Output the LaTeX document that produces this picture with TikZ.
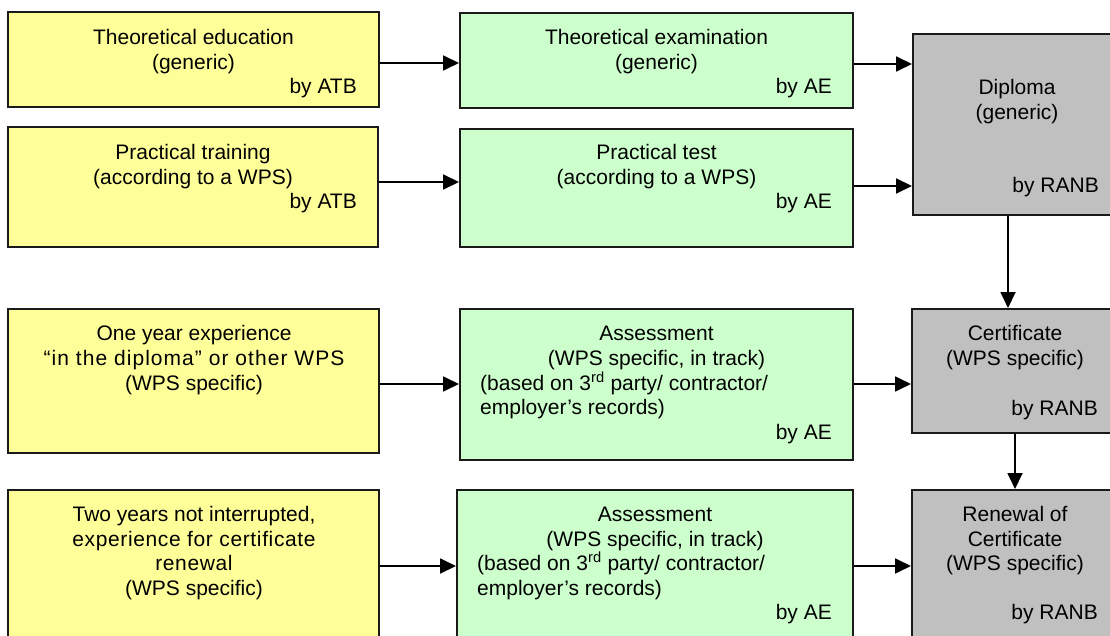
\documentclass[tikz,border=0pt]{standalone}
\usepackage{fontspec}
\setmainfont{Liberation Sans}
\usetikzlibrary{arrows.meta}
\definecolor{ybox}{HTML}{FFFF99}
\definecolor{gbox}{HTML}{CCFFCC}
\definecolor{kbox}{HTML}{C0C0C0}
\definecolor{boxline}{HTML}{1A1A1A}
\begin{document}
\begin{tikzpicture}[x=1pt,y=-1pt,
  box/.style={draw=boxline, line width=2pt, inner sep=0pt, rectangle},
  ybx/.style={box, fill=ybox},
  gbx/.style={box, fill=gbox},
  kbx/.style={box, fill=kbox},
  txt/.style={anchor=base, inner sep=0pt, font=\fontsize{21}{24.5}\selectfont},
  rtxt/.style={txt, anchor=base east},
  ltxt/.style={txt, anchor=base west},
  arr/.style={line width=1.8pt, draw=black, -{Triangle[length=16pt,width=15pt]}}]
\useasboundingbox (0,0) rectangle (1110,636);
\clip (0,0) rectangle (1110,636);
% boxes
\node[ybx, minimum width=371pt, minimum height=95pt]  (y1) at (193.5,59.5) {};
\node[ybx, minimum width=370pt, minimum height=120pt] (y2) at (193,187) {};
\node[gbx, minimum width=393pt, minimum height=95pt]  (g1) at (656.5,60.5) {};
\node[gbx, minimum width=393pt, minimum height=118pt] (g2) at (656.5,188) {};
\node[kbx, minimum width=209pt, minimum height=181pt] (dip) at (1017.5,124.5) {};
\node[ybx, minimum width=371pt, minimum height=144pt] (y3) at (193.5,381) {};
\node[gbx, minimum width=393pt, minimum height=151pt] (g3) at (656.5,384.5) {};
\node[kbx, minimum width=210pt, minimum height=124pt] (cert) at (1017,371) {};
\node[ybx, minimum width=371pt, minimum height=170pt] (y4) at (193.5,575) {};
\node[gbx, minimum width=396pt, minimum height=170pt] (g4) at (655,575) {};
\node[kbx, minimum width=210pt, minimum height=170pt] (ren) at (1017,575) {};
% texts row 1
\node[txt]  (y1a) at (193.5,45) {Theoretical education};
\node[txt]  (y1b) at (193.5,70) {(generic)};
\node[rtxt] (y1c) at (357,94) {by ATB};
\node[txt]  (g1a) at (656.5,45) {Theoretical examination};
\node[txt]  (g1b) at (656.5,70) {(generic)};
\node[rtxt] (g1c) at (832,94) {by AE};
% row 2
\node[txt]  (y2a) at (193,160) {Practical training};
\node[txt]  (y2b) at (193,185) {(according to a WPS)};
\node[rtxt] (y2c) at (357,209) {by ATB};
\node[txt]  (g2a) at (656.5,160) {Practical test};
\node[txt]  (g2b) at (656.5,185) {(according to a WPS)};
\node[rtxt] (g2c) at (832,209) {by AE};
% diploma
\node[txt]  (dipa) at (1017,95) {Diploma};
\node[txt]  (dipb) at (1017,119.5) {(generic)};
\node[rtxt] (dipc) at (1099,192.5) {by RANB};
% row 3
\node[txt]  (y3a) at (194,340.5) {One year experience};
\node[txt]  (y3b) at (194,365.5) {\addfontfeature{LetterSpace=5}“in the diploma” or other WPS};
\node[txt]  (y3c) at (194,390.5) {(WPS specific)};
\node[txt]  (g3a) at (656.5,340.5) {Assessment};
\node[txt]  (g3b) at (656.5,365.5) {(WPS specific, in track)};
\node[ltxt] (g3c) at (480,390.5) {(based on 3\textsuperscript{rd} party/ contractor/};
\node[ltxt] (g3d) at (480,414.5) {employer’s records)};
\node[rtxt] (g3e) at (832,439.5) {by AE};
\node[txt]  (certa) at (1015,340.5) {Certificate};
\node[txt]  (certb) at (1015,365.5) {(WPS specific)};
\node[rtxt] (certc) at (1098,415.5) {by RANB};
% row 4
\node[txt]  (y4a) at (194,521.5) {Two years not interrupted,};
\node[txt]  (y4b) at (194,546) {\addfontfeature{LetterSpace=3}experience for certificate};
\node[txt]  (y4c) at (194,570.5) {\addfontfeature{LetterSpace=3}renewal};
\node[txt]  (y4d) at (194,595) {(WPS specific)};
\node[txt]  (g4a) at (655,521.5) {Assessment};
\node[txt]  (g4b) at (655,546) {(WPS specific, in track)};
\node[ltxt] (g4c) at (477,570.5) {(based on 3\textsuperscript{rd} party/ contractor/};
\node[ltxt] (g4d) at (477,595) {employer’s records)};
\node[rtxt] (g4e) at (832,619.5) {by AE};
\node[txt]  (rena) at (1015,521.5) {Renewal of};
\node[txt]  (renb) at (1015,546) {Certificate};
\node[txt]  (renc) at (1015,570.5) {(WPS specific)};
\node[rtxt] (rend) at (1098,619.5) {by RANB};
% arrows
\draw[arr] ([yshift=-3.5pt]y1.east) -- ([yshift=-3.5pt]y1.east -| g1.west);
\draw[arr] ([yshift=5pt]y2.east) -- ([yshift=5pt]y2.east -| g2.west);
\draw[arr] ([yshift=-3.5pt]g1.east) -- ([yshift=-3.5pt]g1.east -| dip.west);
\draw[arr] ([yshift=2pt]g2.east) -- ([yshift=2pt]g2.east -| dip.west);
\draw[arr] ([xshift=-9.5pt]dip.south) -- ([xshift=-9.5pt]dip.south |- cert.north);
\draw[arr] ([xshift=-2pt]cert.south) -- ([xshift=-2pt]cert.south |- ren.north);
\draw[arr] ([yshift=-3pt]y3.east) -- ([yshift=-3pt]y3.east -| g3.west);
\draw[arr] ([yshift=9pt]y4.east) -- ([yshift=9pt]y4.east -| g4.west);
\draw[arr] ([yshift=0.5pt]g3.east) -- ([yshift=0.5pt]g3.east -| cert.west);
\draw[arr] ([yshift=9pt]g4.east) -- ([yshift=9pt]g4.east -| ren.west);
\end{tikzpicture}
\end{document}
